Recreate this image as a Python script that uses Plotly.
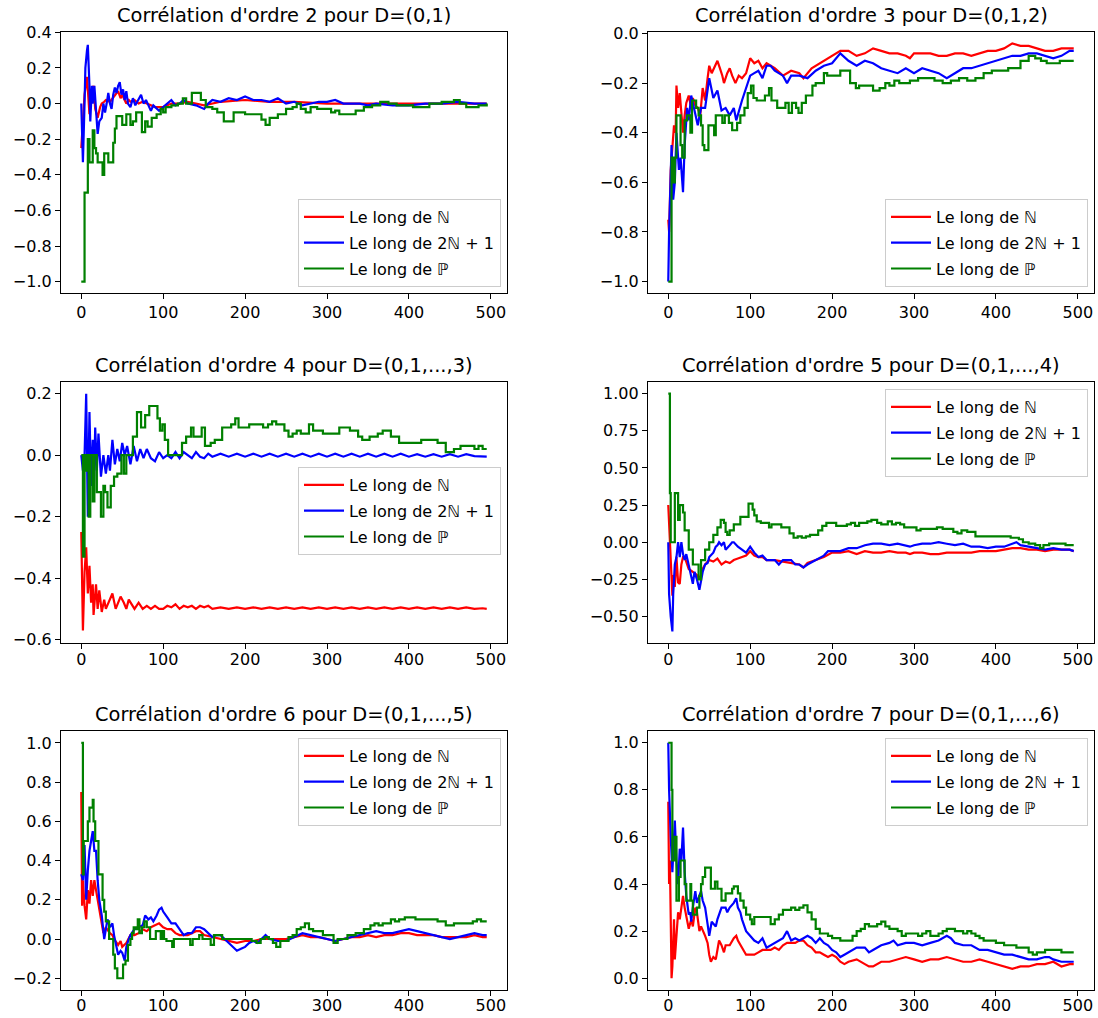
import plotly.graph_objects as go

# ---------------- data (n, value) ----------------
P1_RED = [(0,-0.25),(2,-0.1),(4,0.05),(7,0.15),(9,0.02),(10,-0.06),(12,0.05),(15,0.1),(17,-0.03),(20,-0.08),
          (23,-0.02),(25,0.0),(28,0.01),(30,0.02),(35,0.01),(40,0.04),(45,0.07),(48,0.03),(50,0.05),(55,0.0),
          (58,0.02),(60,0.01),(65,0.02),(70,0.0),(75,0.01),(80,0.0),(90,-0.02),(100,-0.02),(110,0.0),(120,0.0),
          (130,0.01),(150,-0.01),(170,0.01),(200,0.02),(230,0.01),(260,0.01),(300,0.0),(350,0.0),(400,0.0),(450,0.0),(495,0.0)]
P1_BLUE = [(0,0.0),(1,-0.2),(2,-0.33),(4,0.0),(5,0.2),(7,0.3),(8,0.33),(10,0.1),(11,-0.1),(13,0.1),(14,0.0),(16,0.1),
           (18,-0.05),(20,-0.17),(22,-0.1),(25,-0.08),(27,0.0),(29,-0.05),(31,0.0),(33,0.06),(35,0.0),(37,-0.03),
           (39,0.05),(41,0.09),(43,0.06),(45,0.1),(47,0.12),(49,0.05),(51,0.08),(53,0.02),(55,0.07),(57,0.0),
           (60,-0.02),(63,0.03),(66,-0.01),(70,0.02),(73,0.05),(76,0.0),(79,0.02),(82,-0.01),(85,-0.04),(88,-0.01),
           (92,-0.03),(95,-0.04),(100,-0.02),(105,0.0),(110,0.02),(115,-0.01),(120,0.0),(125,0.02),(130,0.0),
           (140,-0.01),(150,-0.03),(155,0.0),(160,0.02),(170,0.01),(180,0.03),(190,0.02),(200,0.04),(210,0.02),
           (220,0.02),(230,0.01),(240,0.03),(250,0.0),(260,0.01),(270,-0.01),(280,0.0),(290,0.01),(300,0.01),
           (310,0.02),(320,0.0),(330,0.0),(340,0.0),(350,-0.01),(360,0.0),(380,-0.01),(400,-0.01),(420,0.0),
           (440,0.0),(460,0.01),(480,0.0),(495,0.0)]
P1_GREEN = [(0,-1.0),(4,-0.5),(8,-0.2),(10,-0.33),(14,-0.15),(16,-0.25),(18,-0.28),(20,-0.33),(24,-0.33),(26,-0.4),
            (28,-0.28),(33,-0.33),(39,-0.22),(41,-0.14),(43,-0.07),(50,-0.12),(55,-0.06),(60,-0.12),(63,-0.1),
            (67,-0.05),(74,-0.16),(78,-0.1),(81,-0.13),(86,-0.08),(92,-0.06),(97,-0.03),(100,-0.05),(103,-0.02),
            (110,-0.01),(118,0.0),(124,0.03),(128,0.0),(135,0.06),(146,0.02),(152,-0.02),(160,-0.03),(166,-0.05),
            (174,-0.1),(186,-0.05),(200,-0.06),(220,-0.09),(225,-0.12),(230,-0.08),(240,-0.06),(250,-0.03),
            (258,-0.02),(263,0.0),(268,-0.03),(274,-0.05),(280,-0.02),(288,-0.03),(305,-0.05),(310,-0.04),
            (315,-0.06),(335,-0.04),(345,-0.02),(355,-0.01),(365,0.01),(375,0.0),(385,-0.01),(405,-0.02),
            (425,0.0),(440,0.01),(455,0.02),(462,0.0),(470,-0.02),(485,-0.01),(495,0.0)]

P2_RED = [(0,-0.75),(1,-0.8),(3,-0.55),(5,-0.45),(7,-0.37),(9,-0.4),(10,-0.21),(12,-0.3),(14,-0.24),(16,-0.32),
          (18,-0.4),(20,-0.33),(22,-0.28),(25,-0.25),(28,-0.3),(30,-0.26),(33,-0.29),(36,-0.3),(39,-0.33),
          (42,-0.22),(45,-0.27),(48,-0.18),(50,-0.13),(53,-0.16),(56,-0.14),(60,-0.11),(63,-0.14),(66,-0.17),
          (68,-0.2),(72,-0.16),(75,-0.14),(78,-0.17),(82,-0.2),(86,-0.17),(90,-0.18),(95,-0.16),(100,-0.1),
          (105,-0.12),(110,-0.11),(115,-0.14),(120,-0.12),(125,-0.13),(130,-0.14),(140,-0.17),(150,-0.15),
          (160,-0.16),(165,-0.18),(175,-0.14),(180,-0.13),(190,-0.11),(200,-0.09),(210,-0.07),(220,-0.07),
          (230,-0.09),(240,-0.08),(250,-0.06),(260,-0.07),(270,-0.08),(280,-0.08),(290,-0.09),(295,-0.1),
          (300,-0.08),(310,-0.08),(320,-0.08),(330,-0.09),(340,-0.09),(350,-0.08),(360,-0.08),(370,-0.09),
          (380,-0.08),(390,-0.07),(400,-0.07),(410,-0.06),(420,-0.04),(430,-0.05),(440,-0.05),(450,-0.06),
          (460,-0.07),(470,-0.07),(480,-0.06),(490,-0.06),(495,-0.06)]
P2_BLUE = [(0,-1.0),(1,-0.8),(4,-0.45),(6,-0.67),(8,-0.6),(10,-0.4),(13,-0.55),(15,-0.5),(18,-0.64),(20,-0.45),
           (23,-0.3),(25,-0.35),(28,-0.25),(30,-0.28),(33,-0.33),(36,-0.37),(40,-0.3),(45,-0.3),(50,-0.18),
           (55,-0.26),(60,-0.23),(65,-0.31),(70,-0.3),(75,-0.33),(80,-0.3),(83,-0.35),(90,-0.27),(95,-0.22),
           (100,-0.17),(105,-0.16),(110,-0.15),(115,-0.18),(120,-0.13),(125,-0.13),(130,-0.15),(140,-0.17),
           (145,-0.2),(150,-0.17),(160,-0.17),(170,-0.18),(180,-0.15),(190,-0.13),(200,-0.12),(210,-0.08),
           (220,-0.11),(230,-0.13),(240,-0.11),(250,-0.12),(260,-0.14),(270,-0.15),(280,-0.16),(290,-0.14),
           (300,-0.16),(310,-0.14),(320,-0.15),(330,-0.16),(340,-0.18),(350,-0.16),(360,-0.14),(370,-0.14),
           (380,-0.13),(390,-0.12),(400,-0.11),(410,-0.1),(420,-0.09),(430,-0.09),(440,-0.08),(450,-0.08),
           (460,-0.09),(470,-0.1),(480,-0.09),(490,-0.07),(495,-0.07)]
P2_GREEN = [(0,-1.0),(4,-0.5),(6,-0.6),(8,-0.5),(10,-0.33),(15,-0.45),(17,-0.5),(20,-0.35),(23,-0.33),(27,-0.4),
            (29,-0.27),(34,-0.3),(37,-0.33),(40,-0.37),(42,-0.45),(44,-0.47),(49,-0.37),(56,-0.41),(58,-0.33),
            (66,-0.36),(69,-0.33),(74,-0.36),(78,-0.39),(84,-0.36),(88,-0.33),(93,-0.3),(97,-0.24),(101,-0.21),
            (104,-0.26),(108,-0.27),(118,-0.25),(123,-0.22),(126,-0.27),(133,-0.3),(143,-0.28),(147,-0.32),
            (151,-0.28),(156,-0.3),(159,-0.32),(163,-0.28),(168,-0.25),(176,-0.21),(180,-0.2),(190,-0.16),
            (194,-0.17),(210,-0.15),(222,-0.2),(229,-0.22),(233,-0.21),(250,-0.23),(258,-0.22),(265,-0.2),
            (270,-0.21),(276,-0.19),(282,-0.2),(295,-0.19),(305,-0.18),(325,-0.19),(335,-0.2),(345,-0.19),
            (355,-0.18),(365,-0.19),(375,-0.18),(385,-0.16),(395,-0.15),(415,-0.14),(430,-0.11),(440,-0.09),
            (448,-0.1),(455,-0.11),(462,-0.12),(478,-0.11),(495,-0.11)]

P3_RED = [(0,-0.25),(2,-0.57),(4,-0.38),(6,-0.3),(8,-0.45),(10,-0.36),(12,-0.48),(14,-0.42),(15,-0.52),(18,-0.42),
          (20,-0.5),(22,-0.44),(25,-0.51),(28,-0.47),(30,-0.5),(33,-0.48),(35,-0.47),(38,-0.45),(42,-0.5),
          (45,-0.48),(48,-0.46),(52,-0.48),(55,-0.5),(58,-0.47),(62,-0.49),(65,-0.5),(70,-0.48),(75,-0.5),
          (80,-0.49),(85,-0.5),(90,-0.49),(95,-0.5),(100,-0.5),(105,-0.49),(110,-0.495),(115,-0.485),(120,-0.5),
          (125,-0.49),(130,-0.495),(135,-0.49),(140,-0.5),(145,-0.49),(150,-0.495),(155,-0.49),(160,-0.5),
          (170,-0.495),(180,-0.5),(190,-0.495),(200,-0.5),(210,-0.495),(220,-0.5),(230,-0.495),(240,-0.5),
          (250,-0.495),(260,-0.5),(270,-0.495),(280,-0.5),(290,-0.495),(300,-0.5),(310,-0.495),(320,-0.5),
          (330,-0.495),(340,-0.5),(350,-0.495),(360,-0.5),(370,-0.495),(380,-0.5),(390,-0.495),(400,-0.5),
          (410,-0.495),(420,-0.5),(430,-0.495),(440,-0.5),(450,-0.495),(460,-0.5),(470,-0.495),(480,-0.5),
          (490,-0.498),(495,-0.5)]
P3_BLUE = [(0,0.0),(2,-0.05),(4,0.0),(6,0.2),(8,-0.2),(10,0.14),(12,-0.1),(14,0.05),(15,-0.15),(17,0.09),(19,-0.05),
           (21,0.07),(24,-0.07),(27,0.0),(30,-0.06),(33,0.0),(35,-0.05),(38,0.05),(41,-0.03),(44,0.02),(47,-0.02),
           (50,0.04),(53,0.0),(56,0.03),(60,-0.03),(64,0.03),(68,-0.02),(72,0.02),(76,-0.01),(80,0.02),(85,-0.01),
           (90,-0.02),(95,0.01),(100,-0.01),(105,0.0),(110,-0.01),(115,0.01),(120,-0.01),(125,0.01),(130,0.0),
           (135,-0.01),(140,0.01),(145,-0.005),(150,-0.01),(155,0.005),(160,-0.005),(170,0.005),(180,-0.005),
           (190,0.005),(200,-0.005),(210,0.005),(220,-0.005),(230,0.005),(240,-0.005),(250,0.005),(260,-0.005),
           (270,0.005),(280,-0.005),(290,0.005),(300,-0.005),(310,0.005),(320,-0.005),(330,0.005),(340,-0.005),
           (350,0.005),(360,-0.005),(370,0.005),(380,-0.005),(390,0.005),(400,-0.005),(410,0.003),(420,-0.005),
           (430,0.003),(440,-0.005),(450,0.003),(460,-0.005),(470,0.003),(480,-0.003),(495,-0.005)]
P3_GREEN = [(0,0.0),(2,-0.33),(4,0.0),(6,-0.05),(7,0.0),(9,-0.2),(11,0.0),(14,-0.15),(16,0.0),(19,-0.12),(24,-0.2),
            (27,-0.1),(29,-0.12),(32,-0.17),(36,-0.1),(40,-0.07),(44,-0.06),(49,0.0),(52,-0.06),(55,0.0),(63,0.06),
            (68,0.14),(73,0.09),(78,0.13),(83,0.16),(93,0.12),(96,0.08),(99,0.1),(102,0.05),(106,0.0),(123,0.04),
            (128,0.06),(134,0.09),(137,0.06),(147,0.09),(151,0.03),(158,0.04),(163,0.05),(172,0.09),(183,0.1),
            (188,0.12),(192,0.09),(205,0.1),(222,0.09),(228,0.1),(233,0.11),(238,0.1),(248,0.08),(253,0.06),
            (258,0.07),(263,0.08),(268,0.07),(278,0.1),(283,0.08),(295,0.07),(315,0.09),(328,0.08),(338,0.06),
            (343,0.05),(352,0.06),(362,0.07),(368,0.08),(378,0.06),(388,0.04),(415,0.05),(435,0.04),(445,0.01),
            (455,0.02),(463,0.03),(480,0.02),(485,0.03),(490,0.02),(495,0.02)]

P4_RED = [(0,0.25),(2,0.0),(4,-0.3),(5,-0.36),(6,-0.22),(8,-0.3),(10,-0.1),(12,-0.27),(14,-0.28),(16,-0.15),
          (18,-0.1),(20,-0.1),(25,-0.18),(30,-0.2),(35,-0.22),(38,-0.25),(42,-0.18),(45,-0.15),(50,-0.12),
          (55,-0.13),(60,-0.11),(65,-0.15),(70,-0.13),(75,-0.14),(80,-0.12),(85,-0.11),(90,-0.1),(95,-0.09),
          (100,-0.06),(105,-0.09),(110,-0.1),(115,-0.1),(120,-0.12),(130,-0.12),(140,-0.13),(150,-0.14),
          (160,-0.15),(165,-0.17),(170,-0.14),(180,-0.12),(190,-0.1),(200,-0.07),(210,-0.07),(220,-0.06),
          (230,-0.08),(240,-0.06),(250,-0.07),(260,-0.07),(270,-0.06),(280,-0.07),(290,-0.07),(295,-0.08),
          (300,-0.07),(310,-0.07),(320,-0.08),(330,-0.08),(340,-0.07),(350,-0.07),(360,-0.07),(370,-0.07),
          (380,-0.06),(390,-0.06),(400,-0.06),(410,-0.05),(420,-0.04),(430,-0.04),(440,-0.05),(450,-0.05),
          (460,-0.06),(470,-0.05),(480,-0.05),(490,-0.05),(495,-0.06)]
P4_BLUE = [(0,0.0),(1,-0.35),(3,-0.5),(5,-0.6),(6,-0.35),(8,-0.15),(10,-0.1),(12,0.0),(14,-0.1),(16,0.0),(18,-0.08),
           (20,-0.12),(22,-0.08),(25,-0.15),(28,-0.22),(30,-0.28),(32,-0.2),(35,-0.25),(38,-0.32),(40,-0.27),
           (42,-0.2),(45,-0.15),(48,-0.14),(50,-0.1),(55,-0.07),(58,-0.03),(60,-0.02),(62,0.0),(65,-0.02),(68,0.0),
           (70,-0.05),(75,-0.02),(78,0.0),(80,0.0),(85,-0.03),(90,-0.05),(95,-0.07),(100,-0.03),(105,-0.07),
           (110,-0.1),(115,-0.09),(120,-0.12),(130,-0.12),(135,-0.15),(140,-0.12),(150,-0.12),(155,-0.15),
           (160,-0.15),(165,-0.17),(170,-0.15),(180,-0.12),(190,-0.09),(195,-0.06),(200,-0.06),(210,-0.06),
           (220,-0.04),(230,-0.04),(240,-0.02),(250,-0.01),(260,-0.01),(270,-0.02),(280,-0.01),(290,-0.02),
           (295,-0.03),(300,-0.02),(310,-0.01),(320,-0.01),(330,0.0),(340,-0.01),(350,-0.02),(360,-0.01),
           (370,-0.03),(380,-0.03),(390,-0.04),(400,-0.03),(410,-0.03),(420,-0.01),(425,0.0),(430,-0.02),
           (440,-0.03),(450,-0.04),(460,-0.05),(470,-0.04),(480,-0.05),(490,-0.05),(495,-0.06)]
P4_GREEN = [(0,1.0),(2,0.33),(3,0.0),(8,0.33),(12,0.15),(14,0.25),(18,0.2),(20,0.08),(25,-0.05),(30,-0.15),
            (37,-0.25),(40,-0.12),(45,-0.05),(50,0.0),(55,0.05),(60,0.1),(64,0.15),(68,0.13),(70,0.07),(72,0.05),
            (75,0.08),(80,0.12),(88,0.17),(98,0.26),(103,0.22),(105,0.18),(108,0.14),(113,0.13),(123,0.1),
            (126,0.12),(138,0.1),(148,0.06),(153,0.03),(158,0.04),(163,0.03),(168,0.04),(173,0.05),(183,0.08),
            (188,0.11),(193,0.13),(205,0.11),(218,0.12),(223,0.13),(228,0.11),(233,0.13),(243,0.14),(248,0.15),
            (255,0.13),(260,0.12),(268,0.14),(273,0.12),(278,0.13),(283,0.12),(288,0.1),(303,0.08),(308,0.09),
            (328,0.1),(335,0.09),(348,0.07),(353,0.06),(358,0.08),(365,0.07),(375,0.04),(418,0.03),(428,0.02),
            (433,0.0),(440,-0.01),(448,-0.02),(454,-0.04),(458,-0.02),(465,-0.01),(485,-0.02),(495,-0.02)]

P5_RED = [(0,0.75),(1,0.17),(2,0.3),(4,0.17),(6,0.1),(8,0.25),(10,0.18),(12,0.3),(14,0.22),(16,0.3),(18,0.25),
          (20,0.2),(22,0.15),(25,0.08),(27,0.03),(30,0.06),(33,0.04),(35,0.03),(38,0.02),(40,0.0),(45,-0.03),
          (48,-0.01),(50,-0.04),(55,-0.02),(60,0.02),(65,0.02),(70,0.03),(75,0.05),(80,0.04),(85,0.06),(90,0.07),
          (95,0.08),(100,0.06),(105,0.05),(110,0.05),(115,0.03),(120,0.02),(130,0.02),(140,0.04),(145,0.04),
          (150,0.02),(160,0.01),(170,0.0),(180,-0.01),(190,-0.02),(200,-0.01),(210,-0.01),(220,0.0),(230,0.0),
          (240,0.0),(250,0.0),(260,0.01),(270,0.02),(280,0.01),(290,0.01),(300,0.0),(310,-0.01),(320,0.0),
          (330,0.01),(340,0.01),(350,0.02),(360,0.01),(370,0.02),(380,0.02),(390,0.03),(400,0.03),(410,0.02),
          (420,0.02),(430,0.02),(440,0.01),(450,0.01),(460,0.01),(470,0.01),(480,0.02),(490,0.01),(495,0.01)]
P5_BLUE = [(0,0.33),(2,0.3),(4,0.48),(6,0.2),(8,0.35),(10,0.45),(12,0.5),(14,0.55),(16,0.45),(18,0.45),(20,0.3),
           (22,0.2),(25,0.12),(28,0.0),(30,0.05),(32,0.1),(35,0.06),(38,0.08),(40,0.02),(42,-0.02),(45,-0.08),
           (48,-0.06),(50,-0.07),(53,-0.11),(55,-0.04),(58,0.0),(60,0.02),(65,0.05),(70,0.06),(75,0.07),(78,0.12),
           (82,0.1),(85,0.11),(88,0.09),(92,0.12),(95,0.15),(98,0.16),(100,0.14),(105,0.11),(110,0.08),(115,0.08),
           (120,0.05),(125,0.02),(130,0.03),(135,0.03),(140,0.06),(145,0.06),(150,0.05),(155,0.03),(160,0.01),
           (165,0.02),(170,0.02),(175,0.0),(180,-0.02),(185,-0.04),(190,-0.06),(195,-0.05),(200,-0.04),
           (205,-0.02),(210,-0.01),(215,-0.02),(220,0.0),(225,0.02),(230,0.0),(240,-0.01),(250,-0.01),(260,0.01),
           (270,0.03),(280,0.02),(290,0.01),(300,0.0),(310,-0.01),(320,0.0),(330,0.01),(340,0.02),(350,0.03),
           (360,0.04),(370,0.03),(380,0.03),(390,0.04),(400,0.05),(410,0.04),(420,0.03),(430,0.02),(440,0.01),
           (450,0.0),(460,0.01),(470,0.02),(480,0.03),(490,0.02),(495,0.02)]
P5_GREEN = [(0,1.0),(2,0.33),(3,0.5),(8,0.6),(10,0.67),(14,0.71),(15,0.6),(17,0.5),(21,0.33),(26,0.2),(28,0.14),
            (30,0.09),(34,0.0),(39,-0.08),(41,-0.15),(44,-0.2),(51,-0.13),(54,-0.11),(57,-0.03),(60,0.0),(62,0.03),
            (64,0.06),(67,0.05),(69,0.1),(71,0.03),(74,0.06),(77,0.09),(80,0.06),(84,0.0),(91,0.04),(97,0.0),
            (99,0.04),(101,0.0),(104,-0.01),(111,-0.04),(113,0.0),(133,-0.03),(136,0.0),(144,0.02),(148,0.0),
            (158,-0.03),(162,0.02),(172,0.0),(208,-0.01),(214,-0.02),(219,0.0),(224,0.01),(229,0.0),(234,-0.02),
            (238,-0.04),(243,-0.01),(253,0.01),(258,0.02),(263,0.05),(268,0.06),(273,0.08),(278,0.05),(283,0.04),
            (295,0.02),(308,-0.02),(313,0.0),(325,0.02),(335,0.03),(345,0.05),(353,0.07),(358,0.08),(363,0.07),
            (368,0.08),(378,0.1),(383,0.09),(388,0.1),(395,0.11),(408,0.1),(435,0.09),(445,0.07),(455,0.08),
            (478,0.09),(483,0.1),(488,0.09),(495,0.09)]

P6_RED = [(0,0.75),(1,0.4),(2,0.5),(4,0.0),(5,0.05),(7,0.25),(8,0.08),(10,0.2),(12,0.28),(14,0.25),(16,0.3),
          (18,0.35),(20,0.3),(22,0.26),(25,0.21),(28,0.25),(30,0.22),(33,0.3),(35,0.28),(38,0.2),(40,0.22),
          (45,0.18),(48,0.15),(50,0.1),(52,0.07),(55,0.09),(58,0.08),(60,0.12),(62,0.16),(65,0.14),(68,0.11),
          (70,0.14),(75,0.14),(80,0.17),(83,0.18),(85,0.16),(90,0.13),(95,0.1),(100,0.1),(105,0.1),(110,0.11),
          (115,0.12),(120,0.12),(125,0.12),(130,0.13),(135,0.12),(140,0.14),(145,0.15),(150,0.15),(155,0.15),
          (160,0.16),(165,0.16),(170,0.14),(175,0.13),(180,0.11),(185,0.11),(190,0.1),(195,0.09),(200,0.1),
          (205,0.09),(210,0.07),(215,0.06),(220,0.07),(230,0.08),(240,0.06),(245,0.05),(250,0.05),(260,0.07),
          (270,0.07),(280,0.08),(290,0.09),(300,0.08),(310,0.07),(320,0.08),(330,0.08),(340,0.09),(350,0.08),
          (360,0.07),(370,0.07),(380,0.08),(390,0.07),(400,0.06),(410,0.05),(420,0.04),(430,0.05),(440,0.05),
          (450,0.06),(460,0.06),(470,0.07),(480,0.05),(490,0.06),(495,0.06)]
P6_BLUE = [(0,1.0),(1,0.8),(3,0.6),(5,0.45),(7,0.6),(8,0.67),(10,0.5),(12,0.4),(14,0.55),(16,0.5),(18,0.64),(20,0.45),
           (22,0.35),(25,0.27),(27,0.28),(28,0.24),(30,0.3),(33,0.37),(35,0.32),(38,0.35),(40,0.37),(42,0.33),
           (45,0.3),(48,0.23),(50,0.18),(53,0.24),(55,0.23),(58,0.22),(60,0.25),(65,0.3),(70,0.3),(72,0.28),
           (75,0.3),(80,0.32),(83,0.34),(85,0.3),(88,0.28),(90,0.25),(95,0.2),(100,0.18),(105,0.16),(110,0.15),
           (115,0.17),(120,0.13),(125,0.14),(130,0.15),(135,0.16),(140,0.17),(145,0.2),(150,0.16),(155,0.17),
           (160,0.16),(165,0.17),(170,0.18),(175,0.17),(180,0.15),(185,0.17),(190,0.15),(195,0.14),(200,0.12),
           (205,0.11),(210,0.09),(215,0.1),(220,0.11),(230,0.13),(240,0.13),(245,0.11),(250,0.12),(260,0.14),
           (270,0.15),(275,0.16),(280,0.14),(290,0.15),(300,0.15),(310,0.14),(320,0.15),(330,0.16),(340,0.18),
           (345,0.17),(350,0.15),(360,0.14),(370,0.14),(380,0.12),(390,0.12),(400,0.11),(410,0.1),(420,0.1),
           (430,0.09),(440,0.08),(450,0.08),(460,0.09),(465,0.09),(470,0.08),(480,0.07),(490,0.07),(495,0.07)]
P6_GREEN = [(0,1.0),(4,0.8),(5,0.5),(8,0.6),(10,0.33),(13,0.43),(15,0.5),(20,0.4),(22,0.33),(27,0.4),(28,0.33),
            (30,0.27),(35,0.3),(38,0.35),(40,0.4),(42,0.43),(45,0.47),(52,0.38),(57,0.41),(60,0.38),(65,0.33),
            (70,0.36),(78,0.38),(80,0.39),(85,0.36),(88,0.33),(92,0.3),(95,0.27),(100,0.25),(102,0.23),(105,0.26),
            (125,0.23),(130,0.25),(135,0.27),(140,0.29),(150,0.3),(155,0.29),(160,0.3),(165,0.31),(170,0.28),
            (175,0.25),(180,0.21),(185,0.19),(195,0.18),(200,0.17),(210,0.16),(225,0.18),(230,0.2),(235,0.21),
            (240,0.23),(245,0.22),(255,0.23),(260,0.24),(265,0.22),(270,0.21),(280,0.2),(285,0.18),(290,0.19),
            (305,0.18),(310,0.19),(315,0.2),(320,0.18),(330,0.19),(335,0.2),(340,0.21),(350,0.2),(360,0.19),
            (365,0.2),(370,0.19),(375,0.18),(380,0.17),(385,0.16),(400,0.15),(410,0.14),(425,0.13),(440,0.11),
            (445,0.1),(450,0.11),(460,0.12),(480,0.11),(495,0.11)]

TITLES = ["Corrélation d'ordre 2 pour D=(0,1)", "Corrélation d'ordre 3 pour D=(0,1,2)",
          "Corrélation d'ordre 4 pour D=(0,1,...,3)", "Corrélation d'ordre 5 pour D=(0,1,...,4)",
          "Corrélation d'ordre 6 pour D=(0,1,...,5)", "Corrélation d'ordre 7 pour D=(0,1,...,6)"]
LABELS = ["Le long de ℕ", "Le long de 2ℕ + 1", "Le long de ℙ"]
COLORS = ["#ff0000", "#0000ff", "#008000"]
SHAPES = ["linear", "linear", "hv"]
YTICKS = [[-1.0, -0.8, -0.6, -0.4, -0.2, 0.0, 0.2, 0.4],
          [-1.0, -0.8, -0.6, -0.4, -0.2, 0.0],
          [-0.6, -0.4, -0.2, 0.0, 0.2],
          [-0.5, -0.25, 0.0, 0.25, 0.5, 0.75, 1.0],
          [-0.2, 0.0, 0.2, 0.4, 0.6, 0.8, 1.0],
          [0.0, 0.2, 0.4, 0.6, 0.8, 1.0]]
YRANGES = [[-1.064, 0.402], [-1.046, 0.006], [-0.611, 0.238], [-0.678, 1.078], [-0.26, 1.061], [-0.05, 1.05]]
XRANGE = [-24.75, 519.75]
YFMT = [1, 1, 1, 2, 1, 1]
XTICKS = [0, 100, 200, 300, 400, 500]
PANELS = [(P1_RED, P1_BLUE, P1_GREEN), (P2_RED, P2_BLUE, P2_GREEN), (P3_RED, P3_BLUE, P3_GREEN),
          (P4_RED, P4_BLUE, P4_GREEN), (P5_RED, P5_BLUE, P5_GREEN), (P6_RED, P6_BLUE, P6_GREEN)]

# ---------------- layout geometry (page pixels) ----------------
W, H = 1098, 1018
COLS = [(61, 507), (648, 1094)]
ROWS = [(32, 293), (382, 643), (731, 990)]
LEG = [(501, 287, "right", "bottom"), (1088, 287, "right", "bottom"),
       (501, 511, "right", "middle"), (1088, 389, "right", "top"),
       (501, 738, "right", "top"), (1088, 738, "right", "top")]
XLABEL_STANDOFF = [0, -3, -4]   # per row; keeps the bottom row's labels inside the page


def px_x(p):
    return p / W


def px_y(p):
    return 1 - p / H


FONT = "DejaVu Sans"
fig = go.Figure()
layout = dict(width=W, height=H, margin=dict(l=0, r=0, t=0, b=0, pad=0, autoexpand=False),
              paper_bgcolor="white", plot_bgcolor="white",
              font=dict(family=FONT, size=16, color="black"), annotations=[])

for i, series in enumerate(PANELS):
    r, c = divmod(i, 2)
    sfx = "" if i == 0 else str(i + 1)
    xa, ya = "x" + sfx, "y" + sfx
    leg = "legend" + sfx
    for k, s in enumerate(series):
        fig.add_trace(go.Scatter(x=[p[0] for p in s], y=[p[1] for p in s], mode="lines", name=LABELS[k],
                                 xaxis=xa, yaxis=ya, line=dict(color=COLORS[k], width=2.2, shape=SHAPES[k]),
                                 legend=leg, legendgroup=f"g{i}_{k}", showlegend=True))
    cx0, cx1 = COLS[c]
    ry0, ry1 = ROWS[r]
    axcommon = dict(showline=True, mirror=True, linecolor="black", linewidth=1.2, ticks="outside",
                    ticklen=5, tickwidth=1.2, tickcolor="black", showgrid=False, zeroline=False,
                    automargin=False, tickfont=dict(family=FONT, size=16, color="black"))
    layout["xaxis" + sfx] = dict(domain=[px_x(cx0), px_x(cx1)], anchor=ya, range=XRANGE,
                                 tickvals=XTICKS, ticktext=[str(t) for t in XTICKS],
                                 ticklabelstandoff=XLABEL_STANDOFF[r], **axcommon)
    layout["yaxis" + sfx] = dict(domain=[px_y(ry1), px_y(ry0)], anchor=xa, range=YRANGES[i],
                                 tickvals=YTICKS[i],
                                 ticktext=[f"{v:.{YFMT[i]}f}".replace("-", "\u2212") for v in YTICKS[i]],
                                 **axcommon)
    lx, ly, xan, yan = LEG[i]
    layout[leg] = dict(x=px_x(lx), y=px_y(ly), xanchor=xan, yanchor=yan, bgcolor="rgba(255,255,255,0.8)",
                       bordercolor="#cccccc", borderwidth=1, font=dict(family=FONT, size=16, color="black"),
                       traceorder="grouped", tracegroupgap=2, itemwidth=40)
    layout["annotations"].append(dict(text=TITLES[i], x=px_x((cx0 + cx1) / 2), y=px_y(ry0), xref="paper",
                                      yref="paper", xanchor="center", yanchor="bottom", yshift=3,
                                      showarrow=False, font=dict(family=FONT, size=19.4, color="black")))

fig.update_layout(**layout)
fig.write_html("out.html", config={"displayModeBar": False},
               post_script="document.body.style.margin='0px';document.body.style.overflow='hidden';")
